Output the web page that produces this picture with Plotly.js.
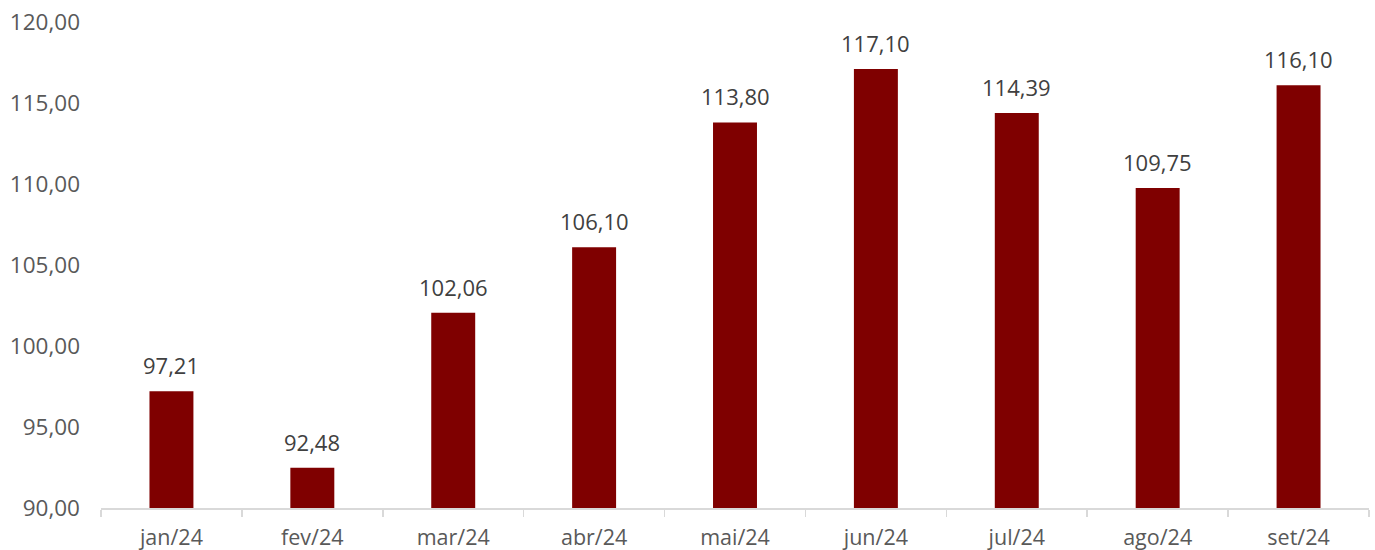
<!DOCTYPE html>
<html>
<head>
<meta charset="utf-8">
<script src="https://cdn.plot.ly/plotly-3.0.1.min.js"></script>
<style>html,body{margin:0;padding:0;background:#fff;}#chart{width:1375px;height:550px;}</style>
</head>
<body>
<div id="chart"></div>
<script>
const categories = ["jan/24","fev/24","mar/24","abr/24","mai/24","jun/24","jul/24","ago/24","set/24"];
const values = [97.21, 92.48, 102.06, 106.10, 113.80, 117.10, 114.39, 109.75, 116.10];
const yTicks = [90, 95, 100, 105, 110, 115, 120];
const baseValue = 90;

const fmt = v => v.toFixed(2).replace(".", ",");

const trace = {
  type: "bar",
  x: categories,
  y: values.map(v => v - baseValue),
  base: baseValue,
  marker: {color: "#7f0000"},
  hoverinfo: "skip"
};

const annotations = categories.map((c, i) => ({
  x: c, y: values[i], xref: "x", yref: "y",
  text: fmt(values[i]), showarrow: false,
  yanchor: "bottom", yshift: 9,
  font: {family: "Open Sans, sans-serif", size: 22, color: "#404040"}
}));

const layout = {
  width: 1375, height: 550,
  margin: {l: 101, r: 6, t: 22, b: 42},
  paper_bgcolor: "#fff", plot_bgcolor: "#fff",
  bargap: 0.688,
  showlegend: false,
  font: {family: "Open Sans, sans-serif", size: 22, color: "#595959"},
  xaxis: {
    type: "category",
    showline: true, linecolor: "#d9d9d9", linewidth: 1.5,
    ticks: "outside", tickson: "boundaries", ticklen: 7, tickcolor: "#d9d9d9", tickwidth: 1.5,
    ticklabelstandoff: 10,
    showgrid: false, zeroline: false,
    tickfont: {size: 21.5, color: "#595959"}
  },
  yaxis: {
    range: [90, 120],
    tickvals: yTicks,
    ticktext: yTicks.map(fmt),
    showgrid: false, zeroline: false, showline: false,
    ticks: "", ticklabelstandoff: 20,
    tickfont: {size: 22.5, color: "#595959"}
  },
  annotations: annotations
};
Plotly.newPlot("chart", [trace], layout, {displayModeBar: false, staticPlot: true});
</script>
</body>
</html>
